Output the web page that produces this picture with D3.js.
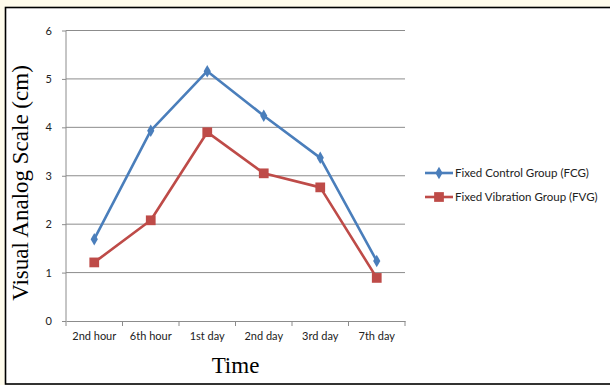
<!DOCTYPE html>
<html>
  <head>
    <meta charset="utf-8">
    <title>Visual Analog Scale over time</title>
    <script src="https://cdn.jsdelivr.net/npm/d3@7"></script>
    <style>
      body { margin: 0; background: #fffcec; }
      #chart { display: block; }
      .tick text { font-family: Lato, "Open Sans", sans-serif; font-size: 11px; fill: #222; }
      .axisTitle { font-family: "Liberation Serif", "DejaVu Serif", serif; fill: #000; }
      .legend text { font-family: Lato, "Open Sans", sans-serif; font-size: 11.5px; fill: #222; }
    </style>
  </head>

  <body>
    <svg id="chart" width="610" height="385"></svg>

    <script>
      // data
      times = ["2nd hour", "6th hour", "1st day", "2nd day", "3rd day", "7th day"];
      seriesNames = ["Fixed Control Group (FCG)", "Fixed Vibration Group (FVG)"];
      fcg = [1.69, 3.93, 5.16, 4.24, 3.37, 1.24];
      fvg = [1.21, 2.08, 3.90, 3.05, 2.76, 0.89];
      yTicks = [0, 1, 2, 3, 4, 5, 6];
      colours = ["#4a7ebb", "#be4b48"];

      chart = d3.select("#chart");

      // white frame
      chart.append("rect")
        .attr("x", 5.5)
        .attr("y", 7.5)
        .attr("width", 620)
        .attr("height", 376.5)
        .attr("fill", "#fff")
        .attr("stroke", "#000")
        .attr("stroke-width", 1.6);

      margin = {left: 66, right: 205, top: 30.5, bottom: 64};
      width = 610;
      height = 385;

      scaleX = d3.scaleBand()
        .domain(times)
        .range([margin.left, width - margin.right]);

      scaleY = d3.scaleLinear()
        .domain([0, 6])
        .range([height - margin.bottom, margin.top]);

      // gridlines
      chart.append("g")
        .selectAll("line")
          .data(yTicks.filter(d => d > 0))
        .enter().append("line")
          .attr("x1", margin.left)
          .attr("x2", width - margin.right)
          .attr("y1", d => scaleY(d))
          .attr("y2", d => scaleY(d))
          .attr("stroke", "#8c8c8c")
          .attr("stroke-width", 1);

      // y axis
      axisY = d3.axisLeft(scaleY)
        .tickValues(yTicks)
        .tickFormat(d3.format("d"))
        .tickSize(4)
        .tickPadding(10);
      yAxisGroup = chart.append("g")
        .attr("transform", "translate(" + margin.left + ",0)")
        .call(axisY);
      yAxisGroup.select(".domain").attr("stroke", "#8c8c8c").attr("d",
        "M0," + scaleY(0) + "V" + scaleY(6));
      yAxisGroup.selectAll(".tick line").attr("stroke", "#8c8c8c");

      // x axis
      axisX = d3.axisBottom(scaleX)
        .tickSize(0)
        .tickPadding(11);
      xAxisGroup = chart.append("g")
        .attr("transform", "translate(0," + scaleY(0) + ")")
        .call(axisX);
      xAxisGroup.select(".domain").attr("stroke", "#8c8c8c");

      // x boundary ticks
      boundaries = times.map(d => scaleX(d)).concat([scaleX.range()[1]]);
      chart.append("g")
        .selectAll("line")
          .data(boundaries)
        .enter().append("line")
          .attr("x1", d => d)
          .attr("x2", d => d)
          .attr("y1", scaleY(0))
          .attr("y2", scaleY(0) + 5)
          .attr("stroke", "#8c8c8c");

      // axis titles
      chart.append("text")
        .classed("axisTitle", true)
        .attr("x", (margin.left + width - margin.right) / 2)
        .attr("y", 373)
        .attr("text-anchor", "middle")
        .style("font-size", "23px")
        .text("Time");

      chart.append("text")
        .classed("axisTitle", true)
        .attr("transform", "translate(28," + 183 + ") rotate(-90)")
        .attr("text-anchor", "middle")
        .style("font-size", "23px")
        .text("Visual Analog Scale (cm)");

      // series
      line = d3.line()
        .x((d, i) => scaleX(times[i]) + scaleX.bandwidth() / 2)
        .y(d => scaleY(d));

      [fcg, fvg].forEach(function(values, s) {
        chart.append("path")
          .datum(values)
          .attr("d", line)
          .attr("fill", "none")
          .attr("stroke", colours[s])
          .attr("stroke-width", 2.6)
          .attr("stroke-linejoin", "round");

        markers = chart.append("g")
          .selectAll("path")
            .data(values)
          .enter().append("path")
            .attr("transform", (d, i) => "translate(" +
              (scaleX(times[i]) + scaleX.bandwidth() / 2) + "," + scaleY(d) + ")")
            .attr("fill", colours[s]);
        if (s == 0) {
          markers.attr("d", d3.symbol(d3.symbolDiamond, 45));
        } else {
          markers.attr("d", d3.symbol(d3.symbolSquare, 95));
        }
      });

      // legend
      legend = chart.append("g")
        .classed("legend", true)
        .attr("transform", "translate(425,173)");

      legendItems = legend.selectAll("g")
        .data(seriesNames)
        .enter().append("g")
          .attr("transform", (d, i) => "translate(0," + i * 24 + ")");

      legendItems.append("line")
        .attr("x1", 0)
        .attr("x2", 28)
        .attr("stroke", (d, i) => colours[i])
        .attr("stroke-width", 2.6);

      legendItems.append("path")
        .attr("transform", "translate(14,0)")
        .attr("fill", (d, i) => colours[i])
        .attr("d", (d, i) => i == 0
          ? d3.symbol(d3.symbolDiamond, 45)()
          : d3.symbol(d3.symbolSquare, 95)());

      legendItems.append("text")
        .attr("x", 30)
        .attr("dy", "0.35em")
        .text(d => d);
    </script>
  </body>
</html>
